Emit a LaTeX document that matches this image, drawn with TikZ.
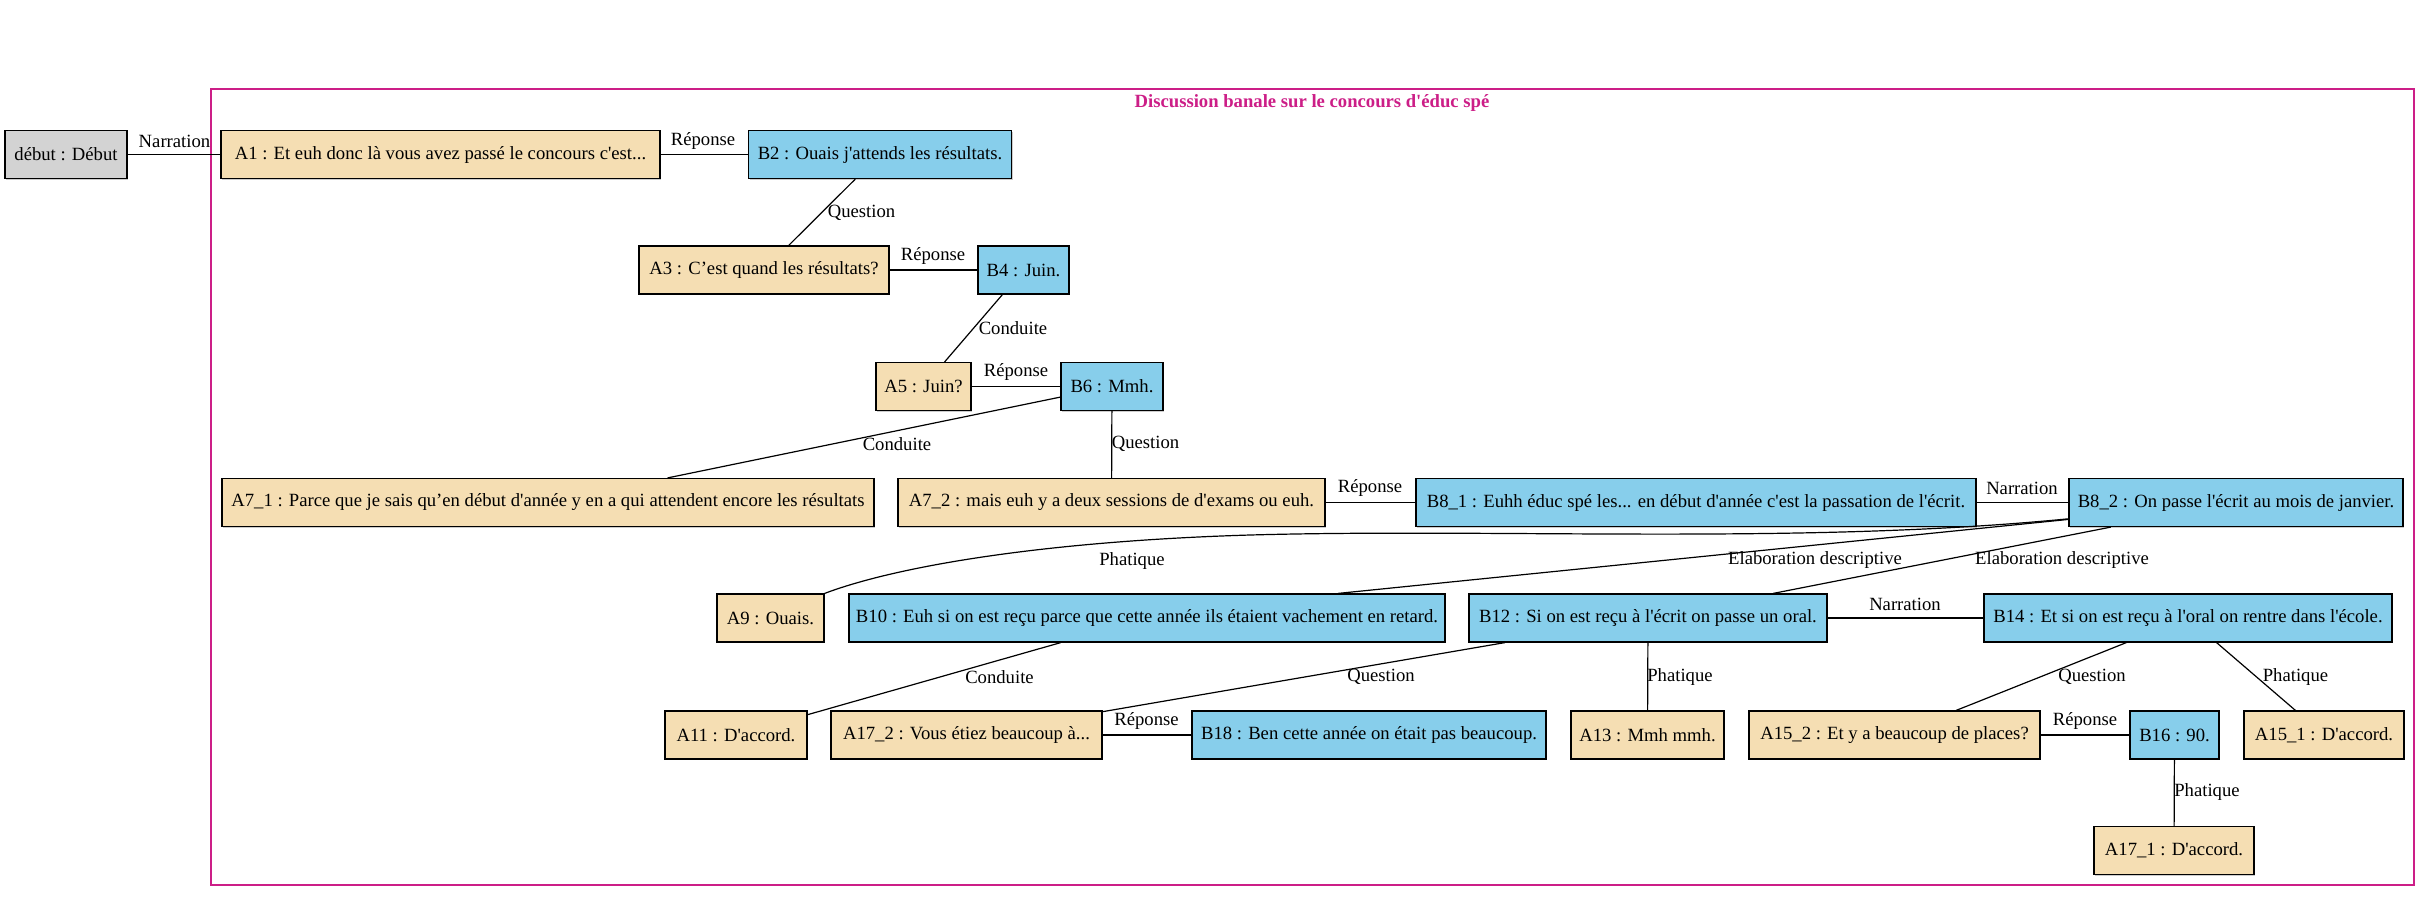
\documentclass[tikz,border=0pt]{standalone}
\usepackage{fontspec}
\setmainfont{Liberation Serif}[Ligatures=TeXOff]
\usetikzlibrary{shadows,calc}

\definecolor{wheatc}{HTML}{F5DEB3}
\definecolor{skyc}{HTML}{87CEEB}
\definecolor{greyc}{HTML}{D3D3D3}
\definecolor{clusterc}{HTML}{CC1E87}

\tikzset{
  turn/.style={draw=black, line width=0.9pt, minimum height=36pt, inner sep=0pt,
    font=\fontsize{14}{17}\selectfont,
    drop shadow={shadow xshift=1pt, shadow yshift=-1pt, fill=black!50, opacity=0.4}},
  speakerA/.style={turn, fill=wheatc},
  speakerB/.style={turn, fill=skyc},
  startbox/.style={turn, fill=greyc},
  wd/.style={minimum width=#1*0.75pt},
  rel/.style={draw=black, line width=0.9pt},
  lbl/.style={inner sep=0pt, font=\fontsize{14}{17}\selectfont},
  clusterbox/.style={draw=clusterc, line width=1pt},
}

\begin{document}
\begin{tikzpicture}[x=0.75pt, y=-0.75pt]
\useasboundingbox (0,0) rectangle (2431,901);

% discussion cluster
\draw[clusterbox] (211,89) rectangle (2414,885);
\node[lbl, font=\fontsize{14}{17}\selectfont\bfseries, text=clusterc] (title) at (1312,103)
  {Discussion banale sur le concours d'éduc spé};

% turns
\node[startbox, wd=122] (start) at (66,154.5) {début : Début};
\node[speakerA, wd=439] (A1) at (440.5,154.5) {A1 : Et euh donc là vous avez passé le concours c'est...};
\node[speakerB, wd=263] (B2) at (880,154.5) {B2 : Ouais j'attends les résultats.};
\node[speakerA, wd=250] (A3) at (764,270) {A3 : C’est quand les résultats?};
\node[speakerB, wd=91] (B4) at (1023.5,270) {B4 : Juin.};
\node[speakerA, wd=95] (A5) at (923.5,386.5) {A5 : Juin?};
\node[speakerB, wd=102] (B6) at (1112,386.5) {B6 : Mmh.};
\node[speakerA, wd=652] (A71) at (548,502.5) {A7\_1 : Parce que je sais qu’en début d'année y en a qui attendent encore les résultats};
\node[speakerA, wd=427] (A72) at (1111.5,502.5) {A7\_2 : mais euh y a deux sessions de d'exams ou euh.};
\node[speakerB, wd=560] (B81) at (1696,502.5) {B8\_1 : Euhh éduc spé les... en début d'année c'est la passation de l'écrit.};
\node[speakerB, wd=334] (B82) at (2236,502.5) {B8\_2 : On passe l'écrit au mois de janvier.};
\node[speakerA, wd=107] (A9) at (770.5,618) {A9 : Ouais.};
\node[speakerB, wd=596] (B10) at (1147,618) {B10 : Euh si on est reçu parce que cette année ils étaient vachement en retard.};
\node[speakerB, wd=358] (B12) at (1648,618) {B12 : Si on est reçu à l'écrit on passe un oral.};
\node[speakerB, wd=408] (B14) at (2188,618) {B14 : Et si on est reçu à l'oral on rentre dans l'école.};
\node[speakerA, wd=142] (A11) at (736,735) {A11 : D'accord.};
\node[speakerA, wd=271] (A172) at (966.5,735) {A17\_2 : Vous étiez beaucoup à...};
\node[speakerB, wd=354] (B18) at (1369,735) {B18 : Ben cette année on était pas beaucoup.};
\node[speakerA, wd=153] (A13) at (1647.5,735) {A13 : Mmh mmh.};
\node[speakerA, wd=291] (A152) at (1894.5,735) {A15\_2 : Et y a beaucoup de places?};
\node[speakerB, wd=89] (B16) at (2174.5,735) {B16 : 90.};
\node[speakerA, wd=160] (A151) at (2324,735) {A15\_1 : D'accord.};
\node[speakerA, wd=160] (A171) at (2174,850.5) {A17\_1 : D'accord.};

% relations
\draw[rel] (start) -- (A1) node[lbl] (r1) at (174.5,141) {Narration};
\draw[rel] (A1) -- (B2) node[lbl] (r2) at (703,141) {Réponse};
\draw[rel] (B2) -- (A3) node[lbl] (r3) at (861.5,213) {Question};
\draw[rel] (A3) -- (B4) node[lbl] (r4) at (933,256) {Réponse};
\draw[rel] (B4) -- (A5) node[lbl] (r5) at (1013,328) {Conduite};
\draw[rel] (A5) -- (B6) node[lbl] (r6) at (1016,372) {Réponse};
\draw[rel] (B6) -- (A71) node[lbl] (r7) at (897,444) {Conduite};
\draw[rel] (B6) -- (A72) node[lbl] (r8) at (1145.5,444) {Question};
\draw[rel] (A72) -- (B81) node[lbl] (r9) at (1370,488) {Réponse};
\draw[rel] (B81) -- (B82) node[lbl] (r10) at (2022,488) {Narration};
\draw[rel] (B82) .. controls (1800,545) and (1500,528) .. (1250,535)
  .. controls (1050,541) and (900,565) .. (A9.north east)
  node[lbl] (r11) at (1132,561) {Phatique};
\draw[rel] (B82) -- ($(B10.north)+(191,0)$) node[lbl] (r12) at (1815,560) {Elaboration descriptive};
\draw[rel] (B82) -- (B12) node[lbl] (r13) at (2062,560) {Elaboration descriptive};
\draw[rel] (B12) -- (B14) node[lbl] (r14) at (1905,604) {Narration};
\draw[rel] (B10) -- (A11) node[lbl] (r15) at (999.5,677) {Conduite};
\draw[rel] (B12) -- (A172) node[lbl] (r16) at (1381,677) {Question};
\draw[rel] (B12) -- (A13) node[lbl] (r17) at (1680,677) {Phatique};
\draw[rel] (A172) -- (B18) node[lbl] (r18) at (1146.5,721) {Réponse};
\draw[rel] (B14) -- (A152) node[lbl] (r19) at (2092,677) {Question};
\draw[rel] (B14) -- (A151) node[lbl] (r20) at (2295.5,677) {Phatique};
\draw[rel] (A152) -- (B16) node[lbl] (r21) at (2085,721) {Réponse};
\draw[rel] (B16) -- (A171) node[lbl] (r22) at (2207,792) {Phatique};
\end{tikzpicture}
\end{document}
